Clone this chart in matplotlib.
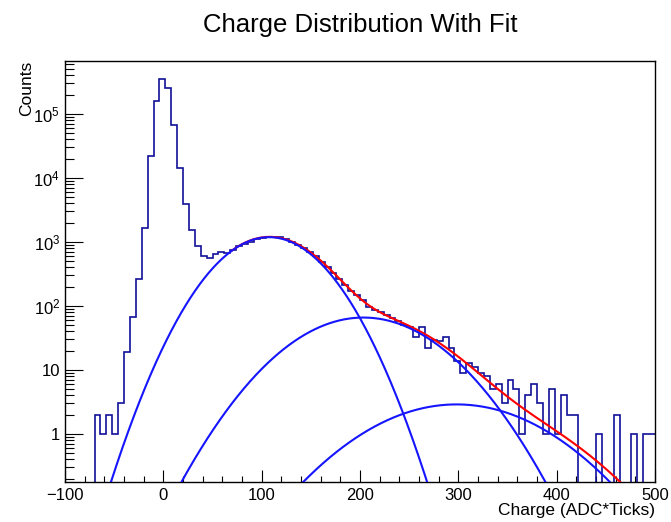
import numpy as np
import matplotlib
matplotlib.use("Agg")
import matplotlib.pyplot as plt
from matplotlib.ticker import (LogLocator, FuncFormatter, MultipleLocator,
                               NullFormatter, FixedLocator)

plt.rcParams['font.family'] = ['Liberation Sans', 'DejaVu Sans']
plt.rcParams['mathtext.fontset'] = 'custom'
plt.rcParams['mathtext.rm'] = 'Liberation Sans'
plt.rcParams['axes.unicode_minus'] = True

# Histogram definition: 100 bins of 6 ADC*Ticks from -100 to 500
bin_low = -100
bin_width = 6
n_bins = 100

counts = [
    0, 0, 0, 0, 0, 2, 1, 2, 1, 3,
    19, 67, 267, 1660, 22000, 160000, 358000, 259000, 67000, 14300,
    3880, 1550, 860, 595, 565, 650, 700, 668, 750, 860,
    935, 1015, 1100, 1170, 1195, 1200, 1180, 1100, 1000, 900,
    795, 700, 600, 490, 410, 330, 265, 213, 170, 149,
    124, 95, 87, 80, 72, 65, 58, 51, 47, 33,
    47, 22, 29, 28, 33, 22, 14, 9, 13, 11,
    9, 8, 5, 6, 3, 7, 5, 1, 4, 6,
    3, 1, 5, 1, 4, 2, 2, 0, 0, 0,
    1, 0, 0, 2, 0, 0, 1, 0, 1, 1,
]

# Individual Gaussian components (amplitude, mean, sigma)
comp_amp = [1190.0, 66.0, 2.9]
comp_mean = [107.5, 203.5, 298.2]
comp_sigma = [38.3, 53.8, 66.0]

# Total fit function (sum of three Gaussians) and its range
fit_amp = [1190.0, 66.0, 2.9]
fit_mean = [107.5, 203.5, 298.2]
fit_sigma = [38.3, 53.8, 70.4]
fit_range = (70, 500)

# Labelled decades on the count axis
y_decades = [0, 1, 2, 3, 4, 5]


def gaus(x, a, m, s):
    return a * np.exp(-0.5 * ((x - m) / s) ** 2)


edges = bin_low + bin_width * np.arange(n_bins + 1)
counts = np.asarray(counts, dtype=float)
# empty bins are pushed below the visible range so the outline drops to the axis
plot_counts = np.where(counts > 0, counts, 1e-3)

fig = plt.figure(figsize=(6.71, 5.22), dpi=100)
ax = fig.add_axes([65 / 671, 1 - 482 / 522, 590 / 671, 421 / 522])

ax.stairs(plot_counts, edges, baseline=None, color='#10109a', lw=1.2, zorder=2)

xf = np.linspace(fit_range[0], fit_range[1], 500)
total = sum(gaus(xf, a, m, s) for a, m, s in zip(fit_amp, fit_mean, fit_sigma))
ax.plot(xf, total, color='#ff0000', lw=1.5, zorder=3)

xc = np.linspace(edges[0], edges[-1], 1200)
for a, m, s in zip(comp_amp, comp_mean, comp_sigma):
    ax.plot(xc, np.clip(gaus(xc, a, m, s), 1e-3, None), color='#1515ff', lw=1.5, zorder=4)

ax.set_yscale('log')
ax.set_xlim(-100, 500)
ax.set_ylim(10 ** -0.75, 10 ** 5.828)

ax.xaxis.set_major_locator(MultipleLocator(100))
ax.xaxis.set_minor_locator(MultipleLocator(20))
ax.yaxis.set_major_locator(FixedLocator([10.0 ** e for e in y_decades]))
ax.yaxis.set_minor_locator(LogLocator(base=10, subs=np.arange(2, 10), numticks=20))
ax.yaxis.set_minor_formatter(NullFormatter())


def ylab(v, pos):
    e = int(round(np.log10(v)))
    if e == 0:
        return '1'
    if e == 1:
        return '10'
    return r'$\mathregular{10^{%d}}$' % e


ax.yaxis.set_major_formatter(FuncFormatter(ylab))

ax.tick_params(which='both', direction='in', top=False, right=False, width=0.8, labelsize=12)
ax.tick_params(axis='x', which='major', length=9, pad=4)
ax.tick_params(axis='x', which='minor', length=4.5)
ax.tick_params(axis='y', which='major', length=13, pad=3.5)
ax.tick_params(axis='y', which='minor', length=6.5)
for sp in ax.spines.values():
    sp.set_linewidth(1.0)

fig.text(360 / 671, 1 - 25 / 522, 'Charge Distribution With Fit', ha='center', va='center', fontsize=18.5)
fig.text(27 / 671, 1 - 61 / 522, 'Counts', rotation=90, ha='center', va='top', fontsize=12.5)
fig.text(655 / 671, 1 - 511 / 522, 'Charge (ADC*Ticks)', ha='right', va='center', fontsize=12.5)

fig.savefig('out.png', dpi=100)
